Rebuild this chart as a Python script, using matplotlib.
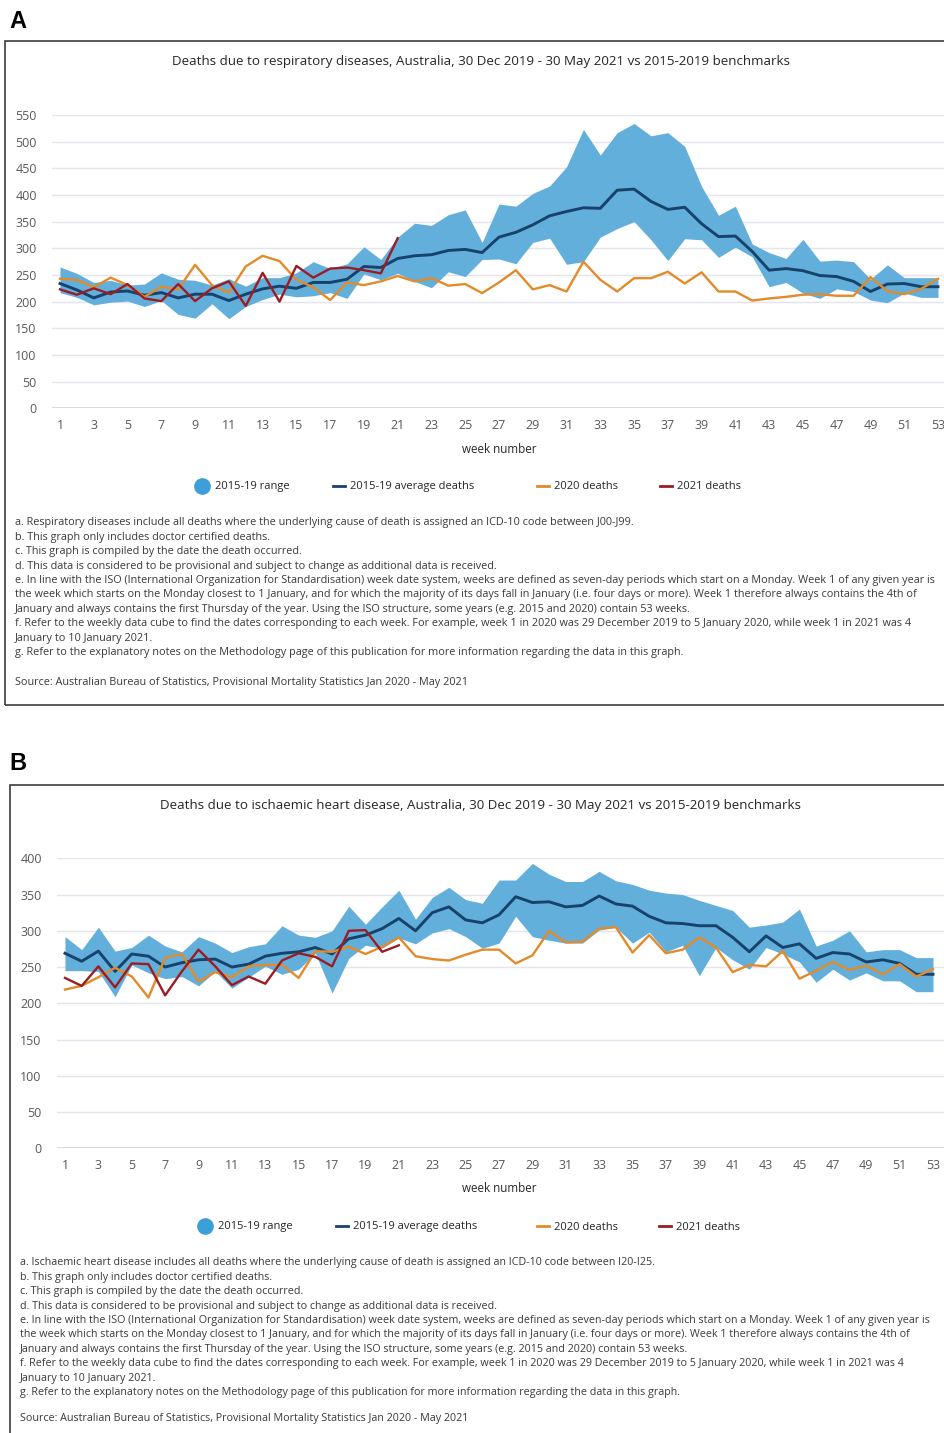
import matplotlib
matplotlib.use('agg')
import matplotlib.pyplot as plt
import matplotlib.patches as patches
from matplotlib.lines import Line2D

W, H = 944, 1433

plt.rcParams['font.family'] = ['Open Sans', 'DejaVu Sans']

weeks = list(range(1, 54))
weeks_2021 = list(range(1, 22))

# panel A - respiratory diseases
resp_upper = [265, 253, 236, 240, 231, 233, 254, 242, 240, 231, 243, 229, 245, 245, 254, 275, 262,
              271, 303, 279, 321, 347, 343, 363, 372, 311, 383, 379, 403, 417, 453, 523, 475, 517, 534,
              511, 517, 491, 416, 362, 379, 308, 292, 281, 317, 276, 278, 275, 242, 269, 245, 245, 245]
resp_lower = [217, 208, 194, 199, 201, 191, 202, 176, 169, 196, 168, 191, 204, 214, 209, 211, 217,
              206, 252, 241, 253, 238, 226, 256, 247, 279, 280, 271, 311, 319, 270, 275, 321, 337, 350,
              316, 277, 318, 316, 283, 302, 284, 228, 236, 216, 206, 224, 219, 203, 198, 216, 208, 208]
resp_avg = [234, 222, 207, 218, 220, 212, 217, 207, 214, 214, 202, 214, 224, 229, 225, 236, 236,
            242, 266, 264, 281, 286, 288, 296, 298, 292, 321, 330, 344, 361, 369, 376, 375, 409, 411,
            388, 373, 377, 346, 322, 323, 294, 259, 262, 258, 249, 247, 238, 219, 233, 234, 228, 228]
resp_2020 = [243, 241, 227, 245, 231, 209, 228, 223, 269, 231, 217, 266, 286, 276, 241, 227, 203,
             236, 231, 238, 248, 238, 244, 230, 233, 216, 236, 259, 223, 231, 219, 275, 241, 219, 244,
             244, 256, 234, 255, 219, 219, 202, 206, 209, 213, 214, 211, 211, 246, 220, 214, 224, 243]
resp_2021 = [223, 213, 225, 214, 233, 206, 201, 233, 201, 225, 238, 192, 254, 200, 267, 245, 262,
             264, 259, 253, 319]

# panel B - ischaemic heart disease
ihd_upper = [292, 274, 305, 272, 277, 294, 279, 271, 292, 283, 270, 278, 282, 307, 294, 291,
             300, 334, 309, 333, 356, 316, 346, 360, 343, 338, 370, 370, 393, 378, 368, 368, 382, 369, 364,
             356, 352, 350, 342, 335, 328, 305, 308, 312, 330, 279, 287, 300, 271, 274, 274, 263, 263]
ihd_lower = [245, 245, 244, 209, 253, 242, 234, 237, 224, 244, 221, 236, 251, 240, 247, 269,
             214, 262, 280, 276, 290, 282, 297, 303, 292, 276, 283, 320, 292, 287, 283, 283, 301, 305, 283,
             298, 271, 280, 238, 277, 260, 247, 277, 268, 257, 229, 247, 232, 242, 231, 231, 216, 216]
ihd_avg = [269, 258, 272, 244, 268, 265, 250, 256, 260, 261, 250, 254, 265, 269, 271, 277,
           268, 289, 294, 303, 317, 300, 325, 333, 315, 311, 322, 347, 339, 340, 333, 335, 348, 337, 334,
           320, 311, 310, 307, 307, 291, 271, 293, 277, 282, 262, 270, 268, 257, 260, 255, 240, 240]
ihd_2020 = [219, 224, 236, 249, 237, 208, 263, 268, 230, 243, 236, 251, 253, 253, 235, 272,
            271, 278, 268, 278, 291, 265, 261, 259, 267, 274, 274, 255, 266, 300, 284, 285, 303, 305, 270,
            294, 269, 274, 291, 277, 243, 253, 251, 272, 234, 245, 257, 246, 252, 240, 254, 237, 247]
ihd_2021 = [235, 224, 251, 222, 255, 254, 211, 244, 274, 251, 225, 237, 227, 259, 269, 264,
            251, 300, 301, 271, 280]

BAND = '#63afdc'
NAVY = '#17426b'
ORANGE = '#e38a29'
RED = '#9c1c24'
TICK = '#595959'
TEXT = '#3a3a3a'

notes_common = [
    "b. This graph only includes doctor certified deaths.",
    "c. This graph is compiled by the date the death occurred.",
    "d. This data is considered to be provisional and subject to change as additional data is received.",
    "e. In line with the ISO (International Organization for Standardisation) week date system, weeks are defined as seven-day periods which start on a Monday. Week 1 of any given year is",
    "the week which starts on the Monday closest to 1 January, and for which the majority of its days fall in January (i.e. four days or more). Week 1 therefore always contains the 4th of",
    "January and always contains the first Thursday of the year. Using the ISO structure, some years (e.g. 2015 and 2020) contain 53 weeks.",
    "f. Refer to the weekly data cube to find the dates corresponding to each week. For example, week 1 in 2020 was 29 December 2019 to 5 January 2020, while week 1 in 2021 was 4",
    "January to 10 January 2021.",
    "g. Refer to the explanatory notes on the Methodology page of this publication for more information regarding the data in this graph.",
]
source = "Source: Australian Bureau of Statistics, Provisional Mortality Statistics Jan 2020 - May 2021"

fig = plt.figure(figsize=(W / 100, H / 100), dpi=100, facecolor='white')


def fx(px):
    return px / W


def fy(py):
    return 1 - py / H


def draw_panel(cfg):
    # frame around the panel (bottom edge may run off the page)
    x0, y0 = cfg['box']
    yb = fy(cfg['box_bottom'])
    rect = patches.Rectangle((fx(x0), yb), fx(W + 20 - x0), fy(y0) - yb,
                             transform=fig.transFigure, fill=False, edgecolor='#3c3c3c', linewidth=1.2)
    fig.add_artist(rect)
    fig.text(fx(cfg['label_xy'][0]), fy(cfg['label_xy'][1]), cfg['label'], fontsize=17,
             fontweight='bold', family='Liberation Sans', va='center', ha='left', color='black')
    fig.text(fx(481), fy(cfg['title_y']), cfg['title'], fontsize=9.65, ha='center', va='center',
             color='#262626')

    left, right, top, bottom = cfg['axes_px']
    ax = fig.add_axes([fx(left), fy(bottom), fx(right - left), (bottom - top) / H])
    ax.fill_between(weeks, cfg['lower'], cfg['upper'], color=BAND, linewidth=0, zorder=2)
    ax.plot(weeks, cfg['avg'], color=NAVY, linewidth=2.1, zorder=3)
    ax.plot(weeks, cfg['d2020'], color=ORANGE, linewidth=1.7, zorder=4)
    ax.plot(weeks_2021, cfg['d2021'], color=RED, linewidth=1.7, zorder=5)

    ax.set_xlim(*cfg['xlim'])
    ax.set_ylim(0, cfg['ymax'])
    ax.set_xticks(range(1, 54, 2))
    ax.set_yticks(range(0, cfg['ymax'] + 1, 50))
    ax.tick_params(length=0, labelsize=9, labelcolor=TICK)
    ax.tick_params(axis='y', pad=11)
    ax.tick_params(axis='x', pad=8)
    for s in ax.spines.values():
        s.set_visible(False)
    ax.yaxis.grid(True, color='#e4e4ee', linewidth=1, zorder=0)
    ax.axhline(0, color='#d3d3e3', linewidth=1.2, zorder=1)
    ax.set_axisbelow(True)

    fig.text(fx(499), fy(cfg['xlabel_y']), 'week number', fontsize=8.4, ha='center', va='center',
             color='#262626')

    # legend entries placed one by one
    ly = cfg['legend_y']
    entries = [
        (Line2D([], [], marker='o', markersize=11, linestyle='none', color='#3d9fd8'), '2015-19 range',
         cfg['legend_x'][0], 0.9, 0.75),
        (Line2D([], [], color=NAVY, linewidth=2), '2015-19 average deaths', cfg['legend_x'][1], 1.1, 0.45),
        (Line2D([], [], color=ORANGE, linewidth=2), '2020 deaths', cfg['legend_x'][2], 1.1, 0.45),
        (Line2D([], [], color=RED, linewidth=2), '2021 deaths', cfg['legend_x'][3], 1.1, 0.45),
    ]
    for handle, label, lx, hl, pad in entries:
        fig.legend(handles=[handle], labels=[label], loc='center left',
                   bbox_to_anchor=(fx(lx), fy(ly)), frameon=False, fontsize=8.0,
                   handlelength=hl, handletextpad=pad, borderpad=0, borderaxespad=0,
                   labelcolor='#262626')

    nx = cfg['notes_x']
    ny = cfg['notes_y']
    lines = [cfg['note_a']] + notes_common
    for i, line in enumerate(lines):
        fig.text(fx(nx), fy(ny + i * 14.4), line, fontsize=cfg['note_size'], ha='left', va='center',
                 color=TEXT)
    fig.text(fx(nx), fy(cfg['source_y']), source, fontsize=cfg['note_size'], ha='left', va='center',
             color=TEXT)
    return ax


panel_a = dict(
    box=(5, 41), box_bottom=705,
    label='A', label_xy=(9, 21),
    title='Deaths due to respiratory diseases, Australia, 30 Dec 2019 - 30 May 2021 vs 2015-2019 benchmarks',
    title_y=61,
    axes_px=(52, 944, 115, 408.3),
    xlim=(1 - 8 / 16.88, 53 + 6 / 16.88), ymax=550,
    upper=resp_upper, lower=resp_lower, avg=resp_avg, d2020=resp_2020, d2021=resp_2021,
    xlabel_y=449, legend_y=487, legend_x=(197, 333, 537, 660),
    notes_x=15, notes_y=523, source_y=682, note_size=7.83,
    note_a="a. Respiratory diseases include all deaths where the underlying cause of death is assigned an ICD-10 code between J00-J99.",
)

panel_b = dict(
    box=(10, 785), box_bottom=H + 20,
    label='B', label_xy=(9, 763),
    title='Deaths due to ischaemic heart disease, Australia, 30 Dec 2019 - 30 May 2021 vs 2015-2019 benchmarks',
    title_y=805,
    axes_px=(57, 944, 858.3, 1148.3),
    xlim=(1 - 8 / 16.69, 53 + 11 / 16.69), ymax=400,
    upper=ihd_upper, lower=ihd_lower, avg=ihd_avg, d2020=ihd_2020, d2021=ihd_2021,
    xlabel_y=1189, legend_y=1227, legend_x=(200, 336, 537, 659),
    notes_x=20, notes_y=1263, source_y=1419, note_size=7.78,
    note_a="a. Ischaemic heart disease includes all deaths where the underlying cause of death is assigned an ICD-10 code between I20-I25.",
)

draw_panel(panel_a)
draw_panel(panel_b)

fig.savefig('out.png', dpi=100, facecolor='white')
